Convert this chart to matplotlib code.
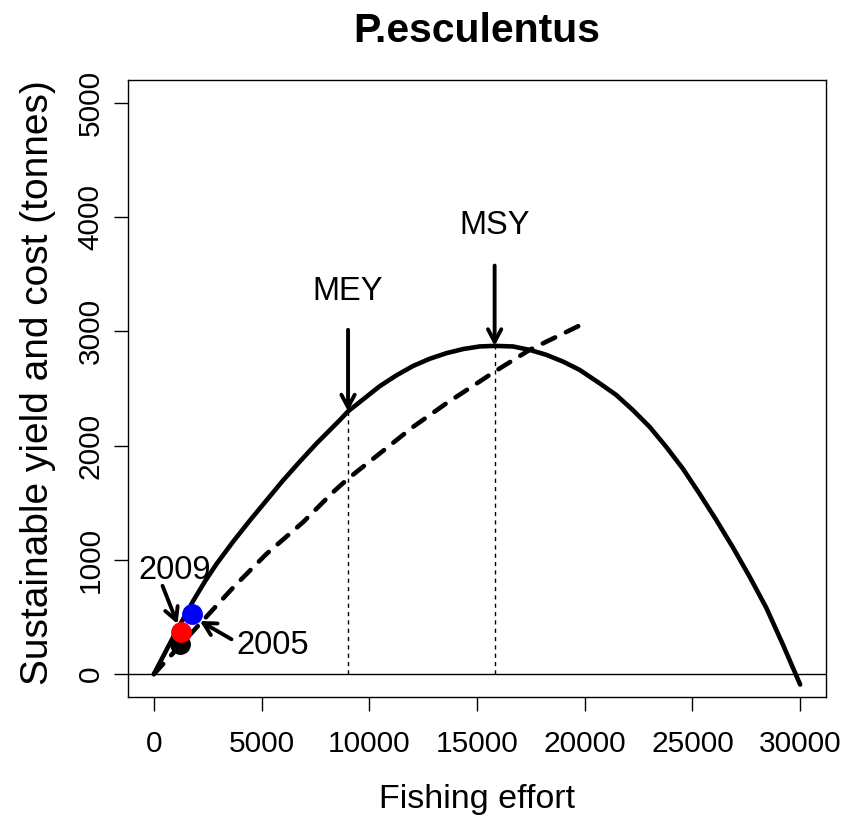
import matplotlib
matplotlib.use("Agg")
import matplotlib.pyplot as plt

plt.rcParams['font.family'] = ['Liberation Sans', 'DejaVu Sans']

# yield curve
effort_yield = [0, 900, 1825, 2366, 2908, 3680, 4453, 5226, 5999, 6773, 7546, 8628,
                9014, 10484, 11258, 12031, 12803, 13577, 14349, 15123, 15818, 16668,
                17442, 18215, 18987, 19762, 20689, 21465, 22236, 23009, 23783, 24554,
                25329, 26103, 26876, 27648, 28423, 29195, 30000]
yield_t = [0, 325, 641, 810, 964, 1160, 1344, 1520, 1696, 1860, 2018, 2223,
           2300, 2520, 2615, 2697, 2760, 2809, 2845, 2868, 2873, 2868,
           2838, 2795, 2736, 2663, 2546, 2443, 2311, 2165, 1989, 1799,
           1579, 1350, 1110, 855, 583, 261, -91]

# cost curve (dashed)
effort_cost = [0, 2134, 3680, 5226, 6926, 8318, 9014, 10484, 12031, 13577, 15123,
               15818, 17442, 20000]
cost_t = [0, 440, 758, 1052, 1330, 1593, 1711, 1931, 2164, 2370, 2561,
          2648, 2838, 3073]

# reference points
mey_effort, mey_yield = 9014, 2300
msy_effort, msy_yield = 15818, 2873
pt_effort = [1206, 1253, 1779]
pt_yield = [261, 369, 530]
pt_colors = ['black', 'red', 'blue']

xticks = [0, 5000, 10000, 15000, 20000, 25000, 30000]
yticks = [0, 1000, 2000, 3000, 4000, 5000]

fig = plt.figure(figsize=(8.55, 8.19), dpi=100)
ax = fig.add_axes([128 / 855, 1 - 697 / 819, 698 / 855, 617 / 819])

ax.axhline(0, color='black', lw=1.0)
ax.plot(effort_yield, yield_t, color='black', lw=3.3, solid_capstyle='round',
        solid_joinstyle='round')
ax.plot(effort_cost, cost_t, color='black', lw=3.3, linestyle=(0, (3, 2.6)),
        dash_capstyle='round')

ax.plot([mey_effort, mey_effort], [0, mey_yield], color='black', lw=1.0,
        linestyle=(0, (3, 3)))
ax.plot([msy_effort, msy_effort], [0, msy_yield], color='black', lw=1.0,
        linestyle=(0, (3, 3)))

for e, y, c in zip(pt_effort, pt_yield, pt_colors):
    ax.plot(e, y, 'o', color=c, markersize=14, zorder=5)

arrow = dict(arrowstyle='->,head_length=0.45,head_width=0.24', lw=2.8,
             color='black', shrinkA=0, shrinkB=0, mutation_scale=20)
ax.annotate('', xy=(mey_effort, mey_yield), xytext=(mey_effort, 3014), arrowprops=arrow)
ax.annotate('', xy=(msy_effort, msy_yield), xytext=(msy_effort, 3576), arrowprops=arrow)
ax.annotate('', xy=(1100, 439), xytext=(403, 773), arrowprops=arrow)
ax.annotate('', xy=(2134, 466), xytext=(3604, 305), arrowprops=arrow)

fs_ann = 23.5
ax.text(mey_effort, 3278, 'MEY', fontsize=fs_ann, ha='center', va='baseline')
ax.text(msy_effort, 3849, 'MSY', fontsize=fs_ann, ha='center', va='baseline')
ax.text(960, 835, '2009', fontsize=fs_ann, ha='center', va='baseline')
ax.text(5534, 176, '2005', fontsize=fs_ann, ha='center', va='baseline')

ax.set_xlim(-1200, 31200)
ax.set_ylim(-200, 5200)
ax.set_xticks(xticks)
ax.set_yticks(yticks)
ax.set_xticklabels([str(v) for v in xticks])
ax.set_yticklabels([str(v) for v in yticks], rotation=90, va='center')
ax.tick_params(direction='out', length=10, width=1.0, labelsize=21.5, pad=7)
ax.tick_params(axis='x', pad=13.5)
for s in ax.spines.values():
    s.set_linewidth(1.0)

ax.set_xlabel('Fishing effort', fontsize=24.5)
ax.set_ylabel('Sustainable yield and cost (tonnes)', fontsize=28)
ax.xaxis.set_label_coords(0.5, (697 - 808) / 617)
ax.xaxis.label.set_va('baseline')
ax.yaxis.set_label_coords((38 - 128) / 698, (697 - 383) / 617)
ax.yaxis.label.set_va('center')

ax.text(0.5, (697 - 42) / 617, 'P.esculentus', transform=ax.transAxes,
        fontsize=29.5, fontweight='bold', ha='center', va='baseline')

fig.savefig('out.png', dpi=100)
